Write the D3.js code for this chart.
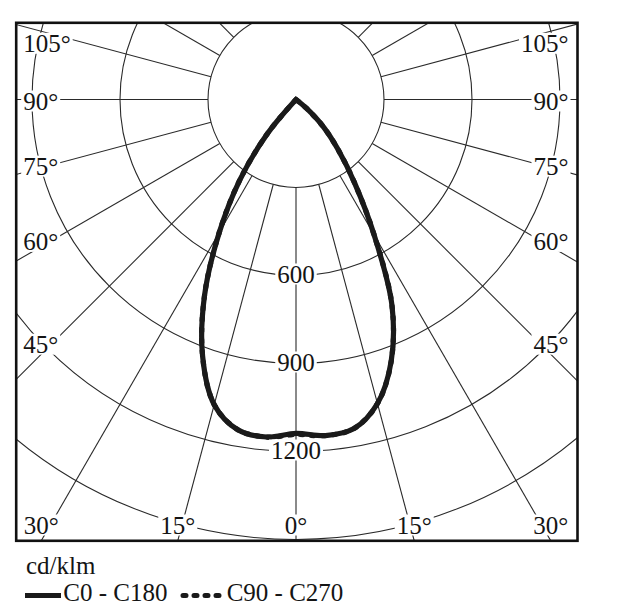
<!DOCTYPE html>
<html>
<head>
<meta charset="utf-8">
<script src="https://cdn.jsdelivr.net/npm/d3@7/dist/d3.min.js"></script>
<style>
  html, body { margin: 0; padding: 0; background: #fff; }
  svg { display: block; }
  text { font-family: "Liberation Serif", "Times New Roman", serif; fill: #141414; }
</style>
</head>
<body>
<svg id="chart" width="637" height="615"></svg>
<script>
// ---------- data ----------
const gammaDeg   = [0, 5, 10, 15, 20, 25, 30, 35, 40, 45, 50, 55];
const c0Values   = [1138, 1150, 1139, 1073, 949, 774, 532, 350, 224, 133, 45, 0];   // right half (C0)
const c180Values = [1138, 1155, 1143, 1077, 931, 738, 523, 332, 150, 0, 0, 0];     // left half (C180)
const c90Values  = [1142, 1150, 1139, 1073, 949, 774, 532, 350, 224, 133, 45, 0];  // right half (C90)
const c270Values = [1142, 1155, 1143, 1077, 931, 738, 523, 332, 150, 0, 0, 0];     // left half (C270)
const ringValues = [300, 600, 900, 1200, 1500];
const ringLabels = ["600", "900", "1200"];
const spokeDeg   = d3.range(0, 360, 15);
const angleLabels = [0, 15, 30, 45, 60, 75, 90, 105];
const unitLabel  = "cd/klm";
const legendItems = ["C0 - C180", "C90 - C270"];

// ---------- layout ----------
const svg = d3.select("#chart");
const box = {x: 16.2, y: 22.8, w: 561.3, h: 518};
const cx = 296, cy = 99.5;
const r = d3.scaleLinear().domain([0, 300]).range([0, 88]);
const rad = d => d * Math.PI / 180;
const gridColor = "#2a2a2a";
const fontSize = 25;

svg.append("defs").append("clipPath").attr("id", "boxclip")
  .append("rect").attr("x", box.x).attr("y", box.y).attr("width", box.w).attr("height", box.h);

const plot = svg.append("g").attr("clip-path", "url(#boxclip)");
const g = plot.append("g").attr("transform", `translate(${cx},${cy})`);

// rings
g.selectAll("circle.ring").data(ringValues).join("circle")
  .attr("class", "ring")
  .attr("r", d => r(d))
  .attr("fill", "none").attr("stroke", gridColor).attr("stroke-width", 1.1);

// spokes (from the first ring outward)
const far = 2000;
g.selectAll("line.spoke").data(spokeDeg).join("line")
  .attr("class", "spoke")
  .attr("x1", d => r(ringValues[0]) * Math.sin(rad(d)))
  .attr("y1", d => r(ringValues[0]) * Math.cos(rad(d)))
  .attr("x2", d => far * Math.sin(rad(d)))
  .attr("y2", d => far * Math.cos(rad(d)))
  .attr("stroke", gridColor).attr("stroke-width", 1.1);

// ---------- curves ----------
function buildPoints(rightVals, leftVals) {
  const pts = [];
  let lastL = leftVals.findIndex((v, i) => i > 0 && v === 0);
  if (lastL < 0) lastL = leftVals.length - 1;
  for (let i = lastL; i >= 1; i--) pts.push({a: Math.PI + rad(gammaDeg[i]), v: leftVals[i]});
  pts.push({a: Math.PI, v: rightVals[0]});
  let lastR = rightVals.findIndex((v, i) => i > 0 && v === 0);
  if (lastR < 0) lastR = rightVals.length - 1;
  for (let i = 1; i <= lastR; i++) pts.push({a: Math.PI - rad(gammaDeg[i]), v: rightVals[i]});
  return pts;
}
const radial = d3.lineRadial()
  .angle(d => d.a)
  .radius(d => r(d.v))
  .curve(d3.curveCatmullRom.alpha(0.5));

g.append("path")
  .attr("d", radial(buildPoints(c90Values, c270Values)) + "Z")
  .attr("fill", "none").attr("stroke", "#1a1a1a").attr("stroke-width", 5.2)
  .attr("stroke-dasharray", "3,8").attr("stroke-linecap", "round").attr("stroke-linejoin", "round");

g.append("path")
  .attr("d", radial(buildPoints(c0Values, c180Values)) + "Z")
  .attr("fill", "none").attr("stroke", "#1a1a1a").attr("stroke-width", 5.2)
  .attr("stroke-linejoin", "miter");

// ---------- labels with white backgrounds ----------
const labelLayer = svg.append("g");
function addLabel(txt, x, y, anchor) {
  const grp = labelLayer.append("g");
  const t = grp.append("text")
    .attr("x", x).attr("y", y).attr("dy", "0.34em")
    .attr("text-anchor", anchor)
    .attr("font-size", fontSize)
    .text(txt);
  const bb = t.node().getBBox();
  grp.insert("rect", "text")
    .attr("x", bb.x - 2).attr("y", bb.y + 3)
    .attr("width", bb.width + 4).attr("height", bb.height - 6)
    .attr("fill", "#fff");
}

// ring labels along the 0° spoke
ringLabels.forEach(s => {
  const v = +s;
  addLabel(s, cx, cy + r(v) - 1.5, "middle");
});

// angle labels
const boxBottom = box.y + box.h;
const topClamp = 43.3, bottomY = 525;
angleLabels.forEach(a => {
  const s = a + "°";
  const sinA = Math.sin(rad(a)), cosA = Math.cos(rad(a));
  const tBottom = (boxBottom - cy) / (cosA || 1e-9);
  const xAtBottom = tBottom * sinA;
  if (cosA > 0 && cx + xAtBottom <= box.x + box.w && cx - xAtBottom >= box.x - 2) {
    [1, -1].forEach(side => {
      if (a === 0 && side === -1) return;
      addLabel(s, cx + side * xAtBottom, bottomY, "middle");
    });
  } else {
    const dx = 256;
    let y = cy + 0.95 * dx * cosA / sinA + 1.5;
    y = Math.max(topClamp, Math.min(bottomY, y));
    addLabel(s, box.x + 7, y, "start");
    addLabel(s, box.x + box.w - 9, y, "end");
  }
});

// frame
svg.append("rect")
  .attr("x", box.x).attr("y", box.y).attr("width", box.w).attr("height", box.h)
  .attr("fill", "none").attr("stroke", "#111").attr("stroke-width", 2.6);

// ---------- legend ----------
svg.append("text").attr("x", 26).attr("y", 574).attr("font-size", fontSize).text(unitLabel);
const legY = 595.5, legBase = 600.7;
svg.append("line").attr("x1", 25).attr("x2", 61).attr("y1", legY).attr("y2", legY)
  .attr("stroke", "#1a1a1a").attr("stroke-width", 5);
svg.append("text").attr("x", 63.3).attr("y", legBase).attr("font-size", fontSize).text(legendItems[0]);
svg.append("line").attr("x1", 183).attr("x2", 220).attr("y1", legY).attr("y2", legY)
  .attr("stroke", "#1a1a1a").attr("stroke-width", 5)
  .attr("stroke-dasharray", "3,8").attr("stroke-linecap", "round");
svg.append("text").attr("x", 226.7).attr("y", legBase).attr("font-size", fontSize).text(legendItems[1]);
</script>
</body>
</html>
